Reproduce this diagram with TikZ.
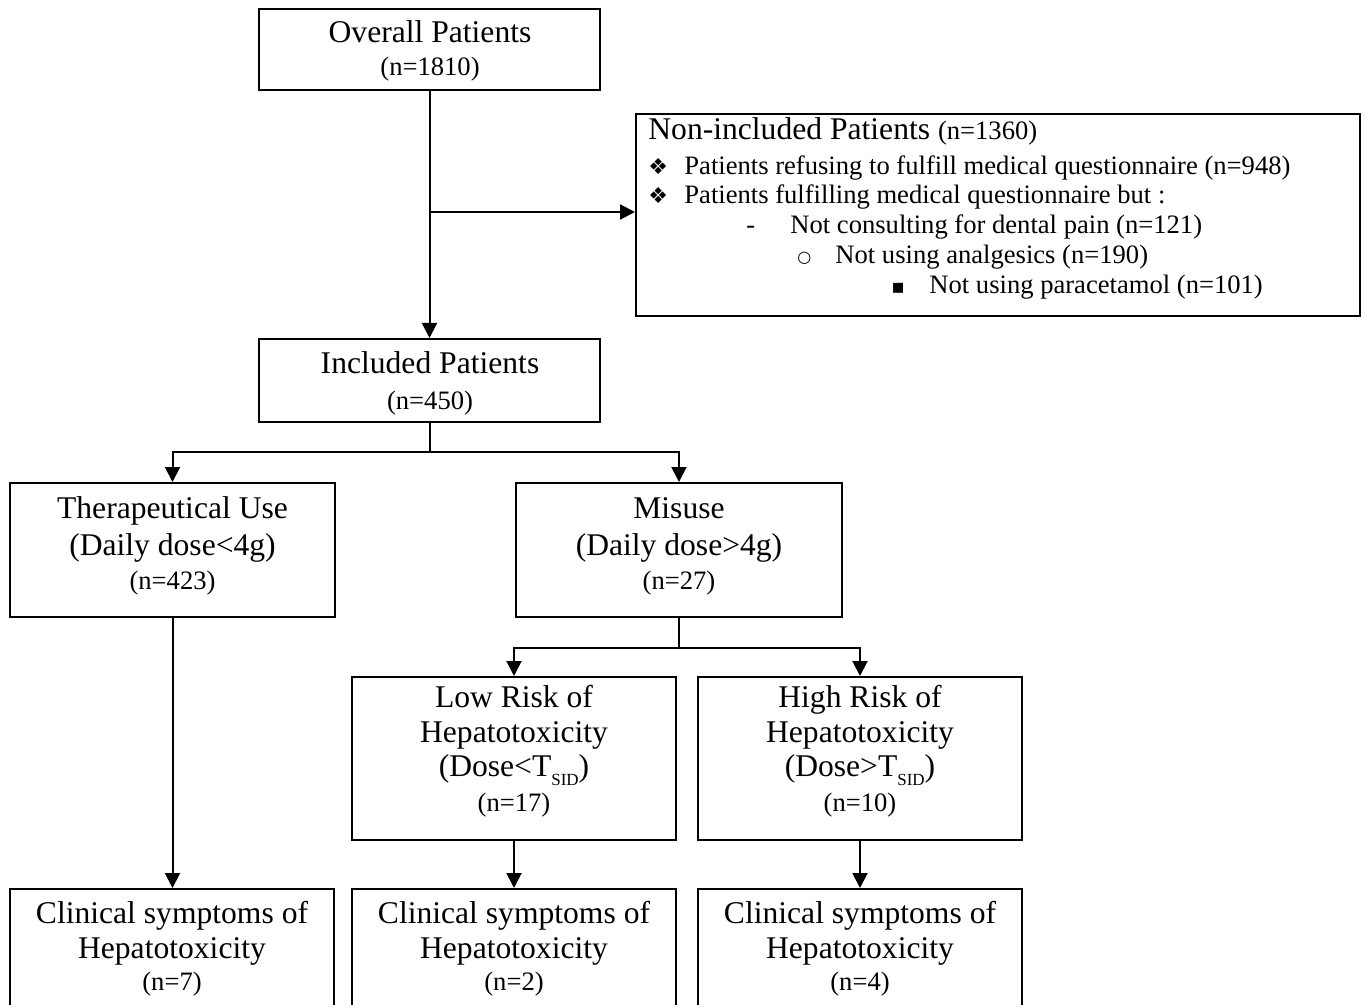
\documentclass[tikz,border=0pt]{standalone}
\usepackage{fontspec}
\setmainfont{Liberation Serif}
\newfontfamily\symfont{DejaVu Sans}
\usetikzlibrary{arrows.meta}
\begin{document}
\begin{tikzpicture}[x=0.5pt,y=-0.5pt,
  box/.style={draw,line width=1pt,inner sep=0pt,rectangle},
  big/.style={font=\fontsize{15.8}{19}\selectfont,anchor=base,inner sep=0pt},
  small/.style={font=\fontsize{13.3}{16}\selectfont,anchor=base,inner sep=0pt},
  mid/.style={font=\fontsize{13.3}{16}\selectfont,anchor=base west,inner sep=0pt},
  sym/.style={mid,font=\symfont\fontsize{11}{13}\selectfont},
  conn/.style={line width=1pt},
  arr/.style={conn,-{Triangle[length=7.5pt,width=7.5pt]}}]
\useasboundingbox (0,0) rectangle (1365,1005);
\clip (0,0) rectangle (1365,1005);
\newcommand{\sid}{\raisebox{-4.5pt}{\fontsize{8.5}{10}\selectfont SID}}

% boxes
\node[box,minimum width=170.5pt,minimum height=40.5pt] (over) at (429.5,49.5) {};
\node[box,minimum width=362pt,minimum height=101pt] (non) at (998,215) {};
\node[box,minimum width=170.5pt,minimum height=41.5pt] (incl) at (429.5,380.5) {};
\node[box,minimum width=162.5pt,minimum height=67pt] (thera) at (172.5,550) {};
\node[box,minimum width=163pt,minimum height=67pt] (mis) at (679,550) {};
\node[box,minimum width=162pt,minimum height=81.5pt] (low) at (514,758.5) {};
\node[box,minimum width=162pt,minimum height=81.5pt] (high) at (860,758.5) {};
\node[box,minimum width=162pt,minimum height=75.5pt] (c1) at (172,964.5) {};
\node[box,minimum width=162pt,minimum height=75.5pt] (c2) at (514,964.5) {};
\node[box,minimum width=162pt,minimum height=75.5pt] (c3) at (860,964.5) {};

% texts
\node[big] (over-t1) at (430,43) {Overall Patients};
\node[small] (over-t2) at (430,76) {(n=1810)};

\node[mid,font=\fontsize{15.8}{19}\selectfont] (non-t0) at (648,140) {Non-included Patients {\fontsize{13.3}{16}\selectfont(n=1360)}};
\node[sym] (non-b1) at (648,175) {❖};
\node[mid] (non-t1) at (684,175) {Patients refusing to fulfill medical questionnaire (n=948)};
\node[sym] (non-b2) at (648,204) {❖};
\node[mid] (non-t2) at (684,204) {Patients fulfilling medical questionnaire but :};
\node[mid] (non-b3) at (746,234) {-};
\node[mid] (non-t3) at (790,234) {Not consulting for dental pain (n=121)};
\node[mid,font=\symfont\fontsize{8}{10}\selectfont] (non-b4) at (797,263) {○};
\node[mid] (non-t4) at (835,264) {Not using analgesics (n=190)};
\node[mid,font=\symfont\fontsize{10}{12}\selectfont] (non-b5) at (891,294) {▪};
\node[mid] (non-t5) at (929,294) {Not using paracetamol (n=101)};

\node[big] (incl-t1) at (430,374) {Included Patients};
\node[small] (incl-t2) at (430,409) {(n=450)};

\node[big] (thera-t1) at (172.5,518) {Therapeutical Use};
\node[big] (thera-t2) at (172.5,555) {(Daily dose<4g)};
\node[small] (thera-t3) at (172.5,589) {(n=423)};

\node[big] (mis-t1) at (679,518) {Misuse};
\node[big] (mis-t2) at (679,555) {(Daily dose>4g)};
\node[small] (mis-t3) at (679,589) {(n=27)};

\node[big] (low-t1) at (514,707) {Low Risk of};
\node[big] (low-t2) at (514,742) {Hepatotoxicity};
\node[big] (low-t3) at (514,776) {(Dose<T\sid)};
\node[small] (low-t4) at (514,811) {(n=17)};

\node[big] (high-t1) at (860,707) {High Risk of};
\node[big] (high-t2) at (860,742) {Hepatotoxicity};
\node[big] (high-t3) at (860,776) {(Dose>T\sid)};
\node[small] (high-t4) at (860,811) {(n=10)};

\node[big] (c1-t1) at (172,923) {Clinical symptoms of};
\node[big] (c1-t2) at (172,958) {Hepatotoxicity};
\node[small] (c1-t3) at (172,990) {(n=7)};
\node[big] (c2-t1) at (514,923) {Clinical symptoms of};
\node[big] (c2-t2) at (514,958) {Hepatotoxicity};
\node[small] (c2-t3) at (514,990) {(n=2)};
\node[big] (c3-t1) at (860,923) {Clinical symptoms of};
\node[big] (c3-t2) at (860,958) {Hepatotoxicity};
\node[small] (c3-t3) at (860,990) {(n=4)};

% connectors
\coordinate (j0) at (over.south |- 0,212);
\coordinate (j1) at (incl.south |- 0,452);
\coordinate (j2) at (mis.south |- 0,648);
\draw[arr] (over.south) -- (incl.north);
\draw[arr] (j0) -- (j0 -| non.west);
\draw[conn] (incl.south) -- (j1);
\draw[arr] (j1) -| (thera.north);
\draw[arr] (j1) -| (mis.north);
\draw[conn] (mis.south) -- (j2);
\draw[arr] (j2) -| (low.north);
\draw[arr] (j2) -| (high.north);
\draw[arr] (thera.south) -- (thera.south |- c1.north);
\draw[arr] (low.south) -- (low.south |- c2.north);
\draw[arr] (high.south) -- (high.south |- c3.north);
\end{tikzpicture}
\end{document}
